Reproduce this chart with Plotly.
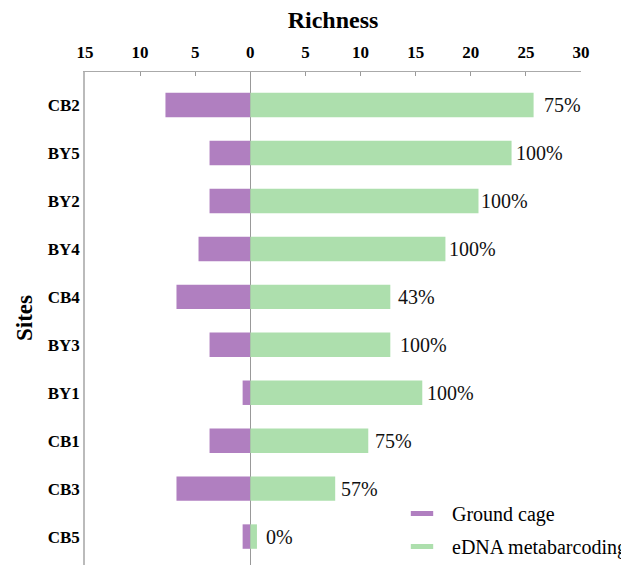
import plotly.graph_objects as go

sites = ["CB2", "BY5", "BY2", "BY4", "CB4", "BY3", "BY1", "CB1", "CB3", "CB5"]
ground_cage = [7.7, 3.7, 3.7, 4.7, 6.7, 3.7, 0.7, 3.7, 6.7, 0.7]
edna = [25.7, 23.7, 20.7, 17.7, 12.7, 12.7, 15.6, 10.7, 7.7, 0.6]
pct_labels = ["75%", "100%", "100%", "100%", "43%", "100%", "100%", "75%", "57%", "0%"]
label_pad = [8, 2, 1, 2, 6, 8, 3, 5, 4, 7]
tick_vals = [-15, -10, -5, 0, 5, 10, 15, 20, 25, 30]
tick_text = ["15", "10", "5", "0", "5", "10", "15", "20", "25", "30"]

PURPLE = "#B07FC0"
GREEN = "#ADDFAD"
SERIF = "Liberation Serif"
NB = "\u00a0\u00a0"

fig = go.Figure()
fig.add_trace(go.Bar(y=sites, x=[-v for v in ground_cage], orientation="h",
                     marker=dict(color=PURPLE, line=dict(width=0)), showlegend=False,
                     name="Ground cage"))
fig.add_trace(go.Bar(y=sites, x=edna, orientation="h",
                     marker=dict(color=GREEN, line=dict(width=0)), showlegend=False,
                     name="eDNA metabarcoding"))
# legend-only entries drawn as short thick dashes
fig.add_trace(go.Scatter(x=[None], y=[None], mode="markers", name=NB + "Ground cage",
                         marker=dict(symbol="line-ew", size=20, color=PURPLE,
                                     line=dict(color=PURPLE, width=5)),
                         legendgroup="a"))
fig.add_trace(go.Scatter(x=[None], y=[None], mode="markers", name=NB + "eDNA metabarcoding",
                         marker=dict(symbol="line-ew", size=20, color=GREEN,
                                     line=dict(color=GREEN, width=5)),
                         legendgroup="b"))

for s, v, t, p in zip(sites, edna, pct_labels, label_pad):
    fig.add_annotation(x=v, y=s, text=t, showarrow=False, xanchor="left",
                       xshift=p, font=dict(family=SERIF, size=20, color="#111"))

fig.add_annotation(text="<b>Sites</b>", textangle=-90, xref="paper", yref="paper",
                   x=(24 - 85) / 496, y=(573 - 318) / 501, xanchor="center", yanchor="middle",
                   showarrow=False, font=dict(family=SERIF, size=23, color="#000"))

fig.update_layout(
    width=629, height=565,
    margin=dict(l=77, r=56, t=64, b=0, pad=0, autoexpand=False),
    paper_bgcolor="white", plot_bgcolor="white",
    barmode="relative", bargap=0.49,
    title=dict(text="<b>Richness</b>", x=325 / 629, xref="container", xanchor="center",
               y=1 - 12 / 565, yref="container", yanchor="middle",
               font=dict(family=SERIF, size=24, color="#000")),
    xaxis=dict(side="top", range=[-15, 30], tickvals=tick_vals, ticktext=tick_text,
               ticks="inside", ticklen=4, tickcolor="#999", tickwidth=1,
               showline=True, linecolor="#aaa", linewidth=1, showgrid=False,
               zeroline=True, zerolinecolor="#999", zerolinewidth=1,
               ticklabelstandoff=6,
               tickfont=dict(family=SERIF, size=17, color="#000", weight="bold")),
    yaxis=dict(type="category", categoryorder="array", categoryarray=sites,
               range=[9.76, -0.69], showline=True, linecolor="#bbb", linewidth=1.5,
               showgrid=False, ticks="", zeroline=False, ticklabelstandoff=0,
               tickfont=dict(family=SERIF, size=17, color="#000", weight="bold")),
    legend=dict(x=(402 - 85) / 496, xref="paper", y=(573 - 494) / 501, yref="paper",
                xanchor="left", yanchor="top", bgcolor="rgba(0,0,0,0)",
                font=dict(family=SERIF, size=20, color="#000"),
                tracegroupgap=4, itemwidth=30, itemsizing="trace"),
)

fig.write_html("out.html")
